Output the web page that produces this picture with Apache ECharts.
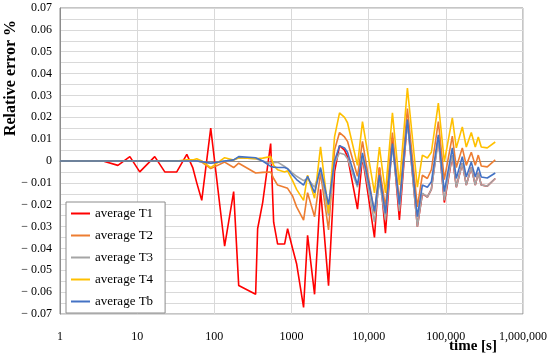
<!DOCTYPE html>
<html><head><meta charset="utf-8">
<script src="https://cdn.jsdelivr.net/npm/echarts@6/dist/echarts.min.js"></script>
<style>html,body{margin:0;padding:0;background:#fff}#c{width:550px;height:361px}</style>
</head><body><div id="c"></div>
<script>
// time [s]
const times = [1, 1.81, 3.6, 5.63, 8.04, 10.8, 16.9, 22.8, 32.6, 44.0, 52.5, 59.2, 68.7, 89.8, 136, 178, 207,
  343, 364, 423, 537, 587, 661, 814, 890, 1033, 1164, 1434, 1616, 1990, 2379, 3020, 3611, 4192, 4864, 5318,
  7164, 8313, 11885, 13792, 16498, 20323, 25021, 31770, 42790, 49658, 57628, 64934, 79984, 95634,
  121370, 136740, 163480, 184190, 213770, 240830, 263330, 287900, 344300, 436900];
// relative error values (x 0.001)
const avgT1 = [0, 0, 0, -2, 2, -5, 2, -5, -5, 3, -3, -10, -18, 15, -39, -14, -57,
  -61, -31, -19, 8, -28, -38, -38, -31, -40, -47, -67, -34, -61, -13, -57, -5, 7, 5, 2,
  -22, 2, -35, -3, -33, 10.5, -27, 19, -30, -15, -16.5, -13, 11, -19,
  2.5, -12, -1, -11, -3, -11, -5.5, -11, -11.5, -8];
const avgT2 = [0, 0, 0, 0, 0, 0, 0, 0, 0, 0, 0, 0, -0.5, -3.5, -0.5, -3, -1,
  -5.5, -5.5, -5.2, -5, -8, -11, -12, -12.5, -16, -21, -27, -14.5, -25.5, -5.5, -31.5, 5, 13, 11, 9,
  -7, 9, -24, -3, -21, 13, -19, 24, -21, -6.5, -8, -4, 18, -8.5,
  11.4, -3, 6, -2, 4, -2, 2.7, -2.3, -2.7, 0.5];
const avgT3 = [0, 0, 0, 0, 0, 0, 0, 0, 0, 0, 0, 0, -0.3, -1, 0, 0.5, 1.5,
  1, 1, 0, -1, -0.8, -0.5, -2.5, -3.5, -5.5, -7, -9, -8, -12, -4, -25, -1, 3.7, 3, 1,
  -12, 2, -28, -9, -27, 7, -23, 18, -30, -14.7, -16.5, -13, 9.5, -18,
  2.7, -12, -1, -11, -3, -11, -5.5, -11, -11.5, -8];
const avgT4 = [0, 0, 0, 0, 0, 0, 0, 0, 0, 0.5, 0.5, 1, 0, -3, 1.5, 0.5, 1.5,
  1, 1, 1.3, 2, -2, -4, -5, -4.5, -9, -13, -18, -6.5, -17, 6.5, -24, 11, 22, 20, 17.5,
  -2, 18, -14.6, 6.4, -14.6, 22, -11, 33.4, -12, 2.7, 1.4, 4, 26.5, -0.4,
  19.7, 6, 15.6, 6.4, 13, 6.4, 11, 6.4, 6, 8.7];
const avgTb = [0, 0, 0, 0, 0, 0, 0, 0, 0, 0, 0, 0, -0.3, -1, 0, 0.5, 2,
  1.5, 1.5, 0, -2.5, -2.8, -3, -3, -3.5, -6.5, -8.5, -11, -7, -14.5, -3, -20, 0, 7, 6, 4,
  -11, 3.7, -23, -6.5, -24, 8, -20, 19, -25.5, -11, -12, -9.5, 12, -14,
  6, -8, 2, -7.3, -0.5, -7.3, -2.7, -7.3, -7.8, -5.5];
const seriesNames = ['average T1', 'average T2', 'average T3', 'average T4', 'average Tb'];
const seriesValues = [avgT1, avgT2, avgT3, avgT4, avgTb];
const colors = ['#FF0000', '#ED7D31', '#A5A5A5', '#FFC000', '#4472C4'];

const serif = "'Liberation Serif', 'Times New Roman', serif";
const chart = echarts.init(document.getElementById('c'), null, {renderer: 'canvas'});
chart.setOption({
  animation: false,
  color: colors,
  grid: {left: 60, right: 26, top: 8, bottom: 47, show: true, borderColor: '#8c8c8c', borderWidth: 1},
  xAxis: {
    type: 'log', logBase: 10, min: 1, max: 1000000,
    axisLine: {show: true, lineStyle: {color: '#8c8c8c'}},
    axisTick: {show: false},
    splitLine: {show: true, lineStyle: {color: '#d9d9d9', width: 1}},
    axisLabel: {
      margin: 17, color: '#000', fontFamily: serif, fontSize: 12,
      formatter: v => { const r = Math.round(v); return r >= 10000 ? r.toLocaleString('en-US') : String(r); }
    }
  },
  yAxis: {
    type: 'value', min: -0.07, max: 0.07, interval: 0.01,
    axisLine: {show: true, lineStyle: {color: '#8c8c8c'}},
    axisTick: {show: false},
    splitLine: {show: true, lineStyle: {color: '#d9d9d9', width: 1}},
    minorTick: {show: false, splitNumber: 2},
    minorSplitLine: {show: true, lineStyle: {color: '#d9d9d9', width: 1}},
    axisLabel: {
      margin: 8, color: '#000', fontFamily: serif, fontSize: 12,
      formatter: v => { const r = Math.round(v * 100) / 100; if (r === 0) return '0'; return r < 0 ? '\u2212 ' + Math.abs(r).toFixed(2) : r.toFixed(2); }
    }
  },
  legend: {
    orient: 'vertical', left: 66, top: 202,
    backgroundColor: '#fff', borderColor: '#8c8c8c', borderWidth: 1,
    padding: [4, 12, 4, 5], itemGap: 7, itemWidth: 19, itemHeight: 2, icon: 'rect',
    textStyle: {fontFamily: serif, fontSize: 13, color: '#000', lineHeight: 15},
    data: seriesNames
  },
  graphic: [
    {type: 'text', left: 3, top: 20, rotation: Math.PI / 2,
     style: {text: 'Relative error %', font: "bold 16px " + serif, fill: '#000'}},
    {type: 'text', x: 473, y: 346,
     style: {text: 'time [s]', font: "bold 15px " + serif, fill: '#000', textAlign: 'center', textVerticalAlign: 'middle'}}
  ],
  series: seriesValues.map((vals, k) => ({
    name: seriesNames[k], type: 'line', symbol: 'none', smooth: false,
    lineStyle: {width: 1.6, color: colors[k]}, itemStyle: {color: colors[k]},
    data: times.map((t, i) => [t, vals[i] / 1000])
  }))
});
</script></body></html>
